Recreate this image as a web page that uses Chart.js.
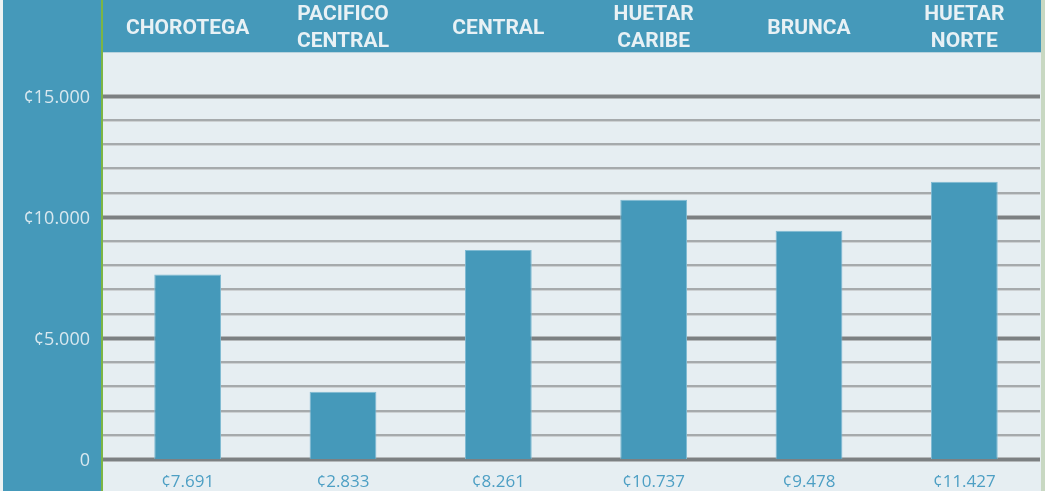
<!DOCTYPE html>
<html>
<head>
<meta charset="utf-8">
<script src="https://cdn.jsdelivr.net/npm/chart.js@4/dist/chart.umd.min.js"></script>
<style>
  html, body { margin: 0; padding: 0; background: #ffffff; }
  #wrap { width: 1045px; height: 491px; position: relative; }
</style>
</head>
<body>
<div id="wrap"><canvas id="c" width="1045" height="491"></canvas></div>
<script>
// ---- data ----
const regions = [["CHOROTEGA"], ["PACIFICO", "CENTRAL"], ["CENTRAL"], ["HUETAR", "CARIBE"], ["BRUNCA"], ["HUETAR", "NORTE"]];
const barValues = [7620, 2780, 8630, 10700, 9420, 11440];
const valueLabels = ["¢7.691", "¢2.833", "¢8.261", "¢10.737", "¢9.478", "¢11.427"];
const gridValues = [0, 1000, 2000, 3000, 4000, 5000, 6000, 7000, 8000, 9000, 10000, 11000, 12000, 13000, 14000, 15000];
const yTickLabels = { 0: "0", 5000: "¢5.000", 10000: "¢10.000", 15000: "¢15.000" };

const BLUE = "#4599ba";
const PLOT_BG = "#e6eef2";

const backdrop = {
  id: "backdrop",
  beforeDraw(chart) {
    const ctx = chart.ctx;
    const W = chart.width, H = chart.height;
    const top = chart.chartArea.top;
    ctx.save();
    ctx.fillStyle = "#eef2f3";
    ctx.fillRect(0, 0, W, H);
    ctx.fillStyle = PLOT_BG;
    ctx.fillRect(103, 0, 938, H);
    ctx.fillStyle = BLUE;
    ctx.fillRect(103, 0, 938, top);
    ctx.fillStyle = "#b9d3de";
    ctx.fillRect(103, top, 938, 1);
    ctx.fillStyle = BLUE;
    ctx.fillRect(3, 0, 98, H);
    ctx.fillStyle = "#7cb545";
    ctx.fillRect(101, 0, 2, H);
    ctx.fillStyle = "#c8d8c2";
    ctx.fillRect(1041, 0, 4, H);
    ctx.restore();
  },
  beforeDatasetsDraw(chart) {
    const ctx = chart.ctx;
    const y = chart.scales.y;
    ctx.save();
    y.ticks.forEach(t => {
      const py = Math.round(y.getPixelForValue(t.value));
      const major = t.value % 5000 === 0;
      if (major) {
        ctx.fillStyle = "#b4b8ba";
        ctx.fillRect(103, py - 2, 937, 5);
        ctx.fillStyle = "#7c8082";
        ctx.fillRect(103, py - 1, 937, 3);
      } else {
        ctx.fillStyle = "#cdd1d3";
        ctx.fillRect(103, py - 1, 937, 3);
        ctx.fillStyle = "#a6aaac";
        ctx.fillRect(103, py - 1, 937, 2);
      }
    });
    ctx.restore();
  }
};

new Chart(document.getElementById("c"), {
  type: "bar",
  data: {
    labels: valueLabels,
    datasets: [{
      data: barValues,
      backgroundColor: BLUE,
      borderColor: "#7fbad2",
      borderWidth: 1,
      barPercentage: 0.43,
      categoryPercentage: 1.0
    }]
  },
  options: {
    responsive: false,
    animation: false,
    devicePixelRatio: 1,
    layout: { padding: { left: 0, right: 3, top: 0, bottom: 0 } },
    plugins: { legend: { display: false }, tooltip: { enabled: false } },
    scales: {
      x: {
        type: "category",
        position: "bottom",
        grid: { display: false, drawTicks: false },
        border: { display: false },
        afterFit(s) { s.height = 32; },
        ticks: {
          color: "#4d9fc4",
          font: { family: "'Open Sans', sans-serif", size: 17 },
          padding: 13,
          maxRotation: 0,
          autoSkip: false
        }
      },
      x2: {
        type: "category",
        position: "top",
        labels: regions,
        grid: { display: false, drawTicks: false },
        border: { display: false },
        afterFit(s) { s.height = 52; },
        ticks: {
          color: "#e8f1f5",
          crossAlign: "center",
          font: { family: "Roboto, sans-serif", size: 21, weight: "bold", lineHeight: 1.3 },
          padding: 10,
          maxRotation: 0,
          autoSkip: false
        }
      },
      y: {
        min: 0,
        max: 16800,
        grid: { display: false, drawTicks: false },
        border: { display: false },
        afterFit(s) { s.width = 110; },
        afterBuildTicks(s) { s.ticks = gridValues.map(v => ({ value: v })); },
        ticks: {
          autoSkip: false,
          color: "#d9e8ef",
          font: { family: "'Open Sans', sans-serif", size: 18 },
          padding: 20,
          labelOffset: 2,
          callback: v => (yTickLabels[v] !== undefined ? yTickLabels[v] : "")
        }
      }
    }
  },
  plugins: [backdrop]
});
</script>
</body>
</html>
